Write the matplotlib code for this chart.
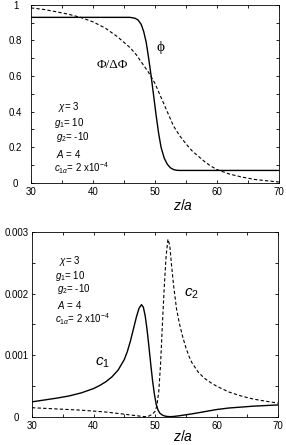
import numpy as np
import matplotlib
matplotlib.use("Agg")
import matplotlib.pyplot as plt
from matplotlib.ticker import MultipleLocator, FuncFormatter

plt.rcParams['font.family'] = ['Liberation Sans', 'DejaVu Sans']
plt.rcParams['mathtext.fontset'] = 'custom'
plt.rcParams['mathtext.rm'] = 'Liberation Sans'
plt.rcParams['mathtext.it'] = 'Liberation Sans:italic'

# profil du haut : phi (trait plein) et Phi/DeltaPhi (pointillés)
z_phi = [30, 46, 46.8, 47.3, 47.8, 48.2, 48.6, 49.0, 49.4, 49.8, 50.2, 50.6,
         51.0, 51.5, 52.0, 52.5, 53.0, 53.5, 54, 70]
phi = [0.93, 0.93, 0.925, 0.915, 0.89, 0.85, 0.79, 0.70, 0.60, 0.49, 0.38, 0.28,
       0.20, 0.14, 0.105, 0.085, 0.075, 0.071, 0.07, 0.07]

z_pot = [30, 32, 34, 36, 38, 40, 42, 44, 46, 47, 48, 49, 50, 51, 52, 53, 54, 55,
         56, 57, 58, 59, 60, 62, 64, 66, 68, 70]
pot = [0.983, 0.975, 0.962, 0.948, 0.93, 0.905, 0.87, 0.82, 0.76, 0.72, 0.67, 0.62,
       0.56, 0.48, 0.40, 0.32, 0.265, 0.22, 0.18, 0.15, 0.12, 0.095, 0.075, 0.05,
       0.033, 0.02, 0.012, 0.005]

# profil du bas : c1 (trait plein) et c2 (pointillés), en unités de 1e-4
z_c1 = [30, 32, 34, 36, 38, 40, 41, 42, 43, 44, 45, 45.5, 46, 46.5, 47, 47.4,
        47.8, 48.1, 48.4, 48.7, 49.0, 49.3, 49.6, 49.9, 50.2, 50.5, 50.8, 51.2,
        51.6, 52, 52.5, 53, 54, 56, 58, 60, 62, 64, 66, 68, 70]
c1 = [2.45, 2.75, 3.05, 3.4, 3.9, 4.6, 5.1, 5.7, 6.5, 7.6, 9.3, 10.6, 12.3,
      14.3, 16.3, 17.6, 18.2, 17.8, 16.4, 14.2, 11.5, 8.6, 5.9, 3.7, 2.0, 1.1,
      0.6, 0.3, 0.15, 0.08, 0.05, 0.08, 0.2, 0.5, 0.85, 1.2, 1.45, 1.6, 1.75,
      1.85, 1.95]

z_c2 = [30, 34, 38, 42, 45, 47, 48, 48.5, 49, 49.5, 50, 50.3, 50.6, 50.9, 51.2,
        51.5, 51.8, 52.1, 52.4, 52.7, 53, 53.5, 54, 54.5, 55, 55.5, 56, 57, 58,
        59, 60, 62, 64, 66, 68, 70]
c2 = [1.5, 1.3, 1.1, 0.8, 0.45, 0.2, 0.08, 0.05, 0.15, 0.4, 0.9, 1.8, 4.0, 8.5,
      15.0, 21.0, 26.0, 28.8, 27.8, 24.5, 21.5, 17.5, 15.0, 13.0, 11.3, 9.9, 8.8,
      7.3, 6.3, 5.6, 5.0, 4.05, 3.4, 2.9, 2.55, 2.25]

params = [r"$\chi$= 3", r"$g_1$= 10", r"$g_2$= -10", r"$A$ = 4",
          r"$c_{1\alpha}$= 2 x10$^{-4}$"]
params_x = [34.4, 33.8, 34.0, 34.0, 33.7]

fig = plt.figure(figsize=(2.86, 4.45), dpi=100)
ax1 = fig.add_axes([0.108, 0.589, 0.867, 0.400])
ax2 = fig.add_axes([0.112, 0.063, 0.860, 0.416])

ax1.plot(z_phi, phi, color='black', lw=1.0)
ax1.plot(z_pot, pot, color='black', lw=0.8, ls=(0, (3, 2)))
ax1.set_ylim(0, 1)
ax1.yaxis.set_major_locator(MultipleLocator(0.2))
ax1.yaxis.set_minor_locator(MultipleLocator(0.1))
ax1.text(50.9, 0.76, "ϕ", family='Liberation Serif', fontsize=11, ha='center', va='center')
ax1.text(43.2, 0.663, "Φ/ΔΦ", family='Liberation Serif', fontsize=9.5, ha='center', va='center')
for s, x, y in zip(params, params_x, [0.427, 0.337, 0.258, 0.163, 0.084]):
    ax1.text(x, y, s, fontsize=7, va='center')

ax2.plot(np.array(z_c1), np.array(c1) * 1e-4, color='black', lw=1.0)
ax2.plot(np.array(z_c2), np.array(c2) * 1e-4, color='black', lw=0.8, ls=(0, (3, 2)))
ax2.set_ylim(0, 0.003)
ax2.yaxis.set_major_locator(MultipleLocator(0.001))
ax2.yaxis.set_minor_locator(MultipleLocator(0.0005))
ax2.text(56.0, 0.00199, r"$c_2$", fontsize=11, ha='center', va='center')
ax2.text(41.4, 0.000875, r"$c_1$", fontsize=11, ha='center', va='center')
for s, x, y in zip(params, params_x, [0.00252, 0.00228, 0.00207, 0.00181, 0.00159]):
    ax2.text(x, y, s, fontsize=7, va='center')

fmt = FuncFormatter(lambda v, p: "%g" % round(v, 6))
for ax, ly in ((ax1, -0.084), (ax2, -0.065)):
    ax.set_xlim(30, 70)
    ax.xaxis.set_major_locator(MultipleLocator(10))
    ax.xaxis.set_minor_locator(MultipleLocator(5))
    ax.yaxis.set_major_formatter(fmt)
    ax.tick_params(which='both', direction='in', top=True, right=True,
                   length=2.5, width=0.6, labelsize=7)
    ax.tick_params(axis='x', pad=3)
    ax.tick_params(axis='y', pad=11)
    for lab in ax.get_yticklabels():
        lab.set_horizontalalignment('center')
    for sp in ax.spines.values():
        sp.set_linewidth(0.6)
    ax.set_xlabel(r"$z/a$", fontsize=10)
    ax.xaxis.set_label_coords(0.613, ly)

fig.savefig("out.png", dpi=100)
